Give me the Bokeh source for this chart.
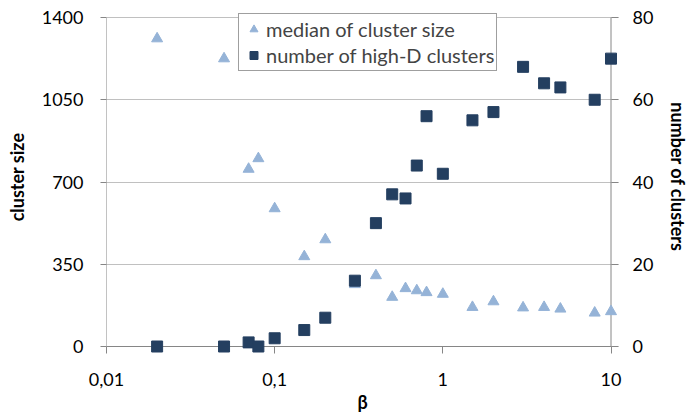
from bokeh.plotting import figure
from bokeh.models import (Range1d, LinearAxis, FixedTicker, CustomJSTickFormatter,
                          Legend, LegendItem, ColumnDataSource)
from bokeh.embed import file_html
from bokeh.resources import INLINE

# beta values shared by both series
beta = [0.02, 0.05, 0.07, 0.08, 0.1, 0.15, 0.2, 0.3, 0.4, 0.5, 0.6, 0.7, 0.8,
        1, 1.5, 2, 3, 4, 5, 8, 10]
# median of cluster size (left axis)
median_size = [1310, 1225, 755, 800, 587, 383, 455, 264, 302, 210, 247, 238, 230,
               223, 167, 191, 165, 167, 160, 143, 149]
# number of high-D clusters (right axis)
n_clusters = [0, 0, 1, 0, 2, 4, 7, 16, 30, 37, 36, 44, 56,
              42, 55, 57, 68, 64, 63, 60, 70]

left_ticks = [0, 350, 700, 1050, 1400]
right_ticks = [0, 20, 40, 60, 80]
x_ticks = [0.01, 0.1, 1, 10]

FONT = "Lato"
AXIS_GRAY = "#868686"
GRID_GRAY = "#c0c0c0"
TRI_COLOR = "#95b3d7"
SQ_COLOR = "#243f60"

# Frame geometry (px). The frame is padded beyond the axis extents so markers
# sitting on the axes and the legend box are not clipped; the axis lines
# themselves are drawn as segments at the true extents.
FRAME_W, FRAME_H = 512, 353
PAD_RIGHT_PX, PAD_TOP_PX, PAD_BOTTOM_PX = 7.5, 17, 7

decades = 3.0
px_per_decade = FRAME_W / (decades + PAD_RIGHT_PX * decades / (FRAME_W - PAD_RIGHT_PX))
x_hi = x_ticks[-1] * 10 ** (PAD_RIGHT_PX / px_per_decade)

y_lo, y_hi = left_ticks[0], left_ticks[-1]
r_lo, r_hi = right_ticks[0], right_ticks[-1]
inner_h = FRAME_H - PAD_TOP_PX - PAD_BOTTOM_PX
f_lo, f_hi = PAD_BOTTOM_PX / inner_h, PAD_TOP_PX / inner_h

p = figure(frame_width=FRAME_W, frame_height=FRAME_H, x_axis_type="log",
           x_range=Range1d(x_ticks[0], x_hi),
           y_range=Range1d(y_lo - f_lo * (y_hi - y_lo), y_hi + f_hi * (y_hi - y_lo)),
           output_backend="svg", toolbar_location=None,
           min_border_left=106, min_border_right=70,
           min_border_top=0, min_border_bottom=62)
p.outline_line_color = None
p.extra_y_ranges = {"right": Range1d(r_lo - f_lo * (r_hi - r_lo), r_hi + f_hi * (r_hi - r_lo))}

# axis lines at the true extents
p.segment(x0=[x_ticks[0], x_ticks[-1], x_ticks[0]],
          y0=[y_lo, y_lo, y_lo],
          x1=[x_ticks[0], x_ticks[-1], x_ticks[-1]],
          y1=[y_hi, y_hi, y_lo],
          line_color=AXIS_GRAY, line_width=1)

src = ColumnDataSource(dict(beta=beta, size=median_size, n=n_clusters))

tri = p.scatter("beta", "size", source=src, marker="triangle", size=11,
                fill_color=TRI_COLOR, line_color=TRI_COLOR)
sq = p.scatter("beta", "n", source=src, marker="square", size=11,
               fill_color=SQ_COLOR, line_color=SQ_COLOR, y_range_name="right")

# x axis
xa = p.xaxis[0]
xa.ticker = FixedTicker(ticks=x_ticks, minor_ticks=[])
xa.formatter = CustomJSTickFormatter(code="return tick.toString().replace('.', ',');")
xa.axis_label = "β"

# left axis
ya = p.yaxis[0]
ya.ticker = FixedTicker(ticks=left_ticks, minor_ticks=[])
ya.axis_label = "cluster size"

# right axis
ra = LinearAxis(y_range_name="right", ticker=FixedTicker(ticks=right_ticks, minor_ticks=[]),
                axis_label="number of clusters")
p.add_layout(ra, "right")

for ax in (xa, ya, ra):
    ax.axis_line_color = None
    ax.major_tick_line_color = AXIS_GRAY
    ax.minor_tick_line_color = None
    ax.major_label_text_font = FONT
    ax.major_label_text_font_size = "18px"
    ax.major_label_text_color = "#000000"
    ax.axis_label_text_font = FONT
    ax.axis_label_text_font_size = "18px"
    ax.axis_label_text_font_style = "bold"
    ax.axis_label_text_color = "#000000"

xa.major_tick_in = 7
xa.major_tick_out = 0
xa.major_label_standoff = 19
xa.axis_label_standoff = 2

ya.major_tick_in = 0
ya.major_tick_out = 6
ya.major_label_standoff = 17
ya.axis_label_standoff = 11

ra.major_tick_in = 7
ra.major_tick_out = 0
ra.major_label_standoff = 14
ra.axis_label_standoff = 11

p.xgrid.grid_line_color = None
p.ygrid.grid_line_color = GRID_GRAY
p.ygrid.ticker = FixedTicker(ticks=left_ticks)

legend = Legend(items=[LegendItem(label="median of cluster size", renderers=[tri]),
                       LegendItem(label="number of high-D clusters", renderers=[sq])],
                location=(132, 282))
legend.border_line_color = "#404040"
legend.border_line_width = 1
legend.background_fill_color = "white"
legend.background_fill_alpha = 1
legend.label_text_font = FONT
legend.label_text_font_size = "20px"
legend.padding = 2
legend.spacing = 0
legend.margin = 0
legend.glyph_width = 25
legend.glyph_height = 20
legend.label_standoff = 0
legend.label_height = 26
p.add_layout(legend, "center")

open("out.html", "w").write(file_html(p, INLINE))
